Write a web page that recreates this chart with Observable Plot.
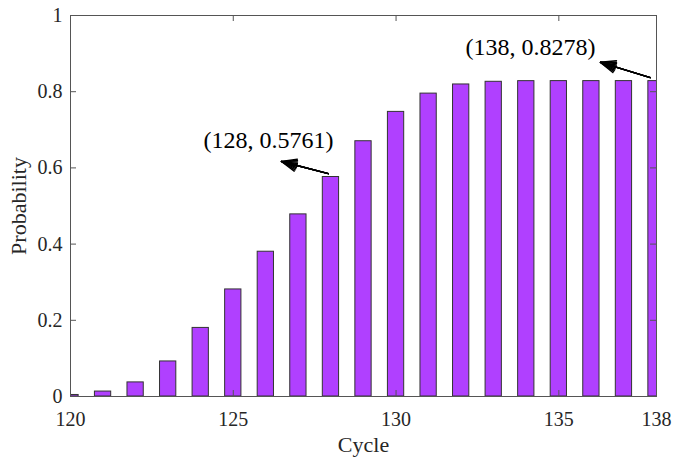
<!DOCTYPE html>
<html>
<head>
<meta charset="utf-8">
<script src="https://cdn.jsdelivr.net/npm/d3@7"></script>
<script src="https://cdn.jsdelivr.net/npm/@observablehq/plot@0.6"></script>
<style>
  html, body { margin: 0; padding: 0; background: #fff; }
  #chart { width: 673px; height: 459px; }
</style>
</head>
<body>
<div id="chart"></div>
<script>
// ---- data ----
const cycles = [120,121,122,123,124,125,126,127,128,129,130,131,132,133,134,135,136,137,138];
const probability = [0.004,0.013,0.037,0.092,0.180,0.281,0.380,0.478,0.5761,0.670,0.747,0.795,0.819,0.826,0.8277,0.8278,0.8278,0.8278,0.8278];
const xTicks = [120,125,130,135,138];
const yTicks = [0,0.2,0.4,0.6,0.8,1];
const yTickLabels = ["0","0.2","0.4","0.6","0.8","1"];
const annoText = ["(128, 0.5761)", "(138, 0.8278)"];
const annoTextX = [126.08, 134.13];
const annoTextY = [0.672, 0.916];
const arrowFromX = [127.92, 137.81];
const arrowFromY = [0.585, 0.837];
const arrowToX = [126.48, 136.28];
const arrowToY = [0.617, 0.877];

const bars = cycles.map((c, i) => ({cycle: c, p: probability[i]}));
const annos = annoText.map((t, i) => ({
  t, x: annoTextX[i], y: annoTextY[i],
  x1: arrowFromX[i], y1: arrowFromY[i], x2: arrowToX[i], y2: arrowToY[i]
}));

const font = "'Liberation Serif', 'Times New Roman', serif";
const ink = "#262626";
const frameH = 459 - 15 - 63;
const frameW = 673 - 70 - 17;

const headMarks = [45, 35, 25, 15, 6].map(a => Plot.arrow(annos, {
  x1: "x1", y1: "y1", x2: "x2", y2: "y2",
  stroke: "black", strokeWidth: 1.5, headLength: 16, headAngle: a
}));

const chart = Plot.plot({
  width: 673,
  height: 459,
  marginLeft: 70,
  marginRight: 17,
  marginTop: 15,
  marginBottom: 63,
  style: {fontFamily: font, background: "white", color: ink},
  x: {domain: [120, 138]},
  y: {domain: [0, 1]},
  marks: [
    Plot.rectY(bars, {
      x1: d => d.cycle - 0.25, x2: d => d.cycle + 0.25, y: "p",
      fill: "#b040ff", stroke: "#333", strokeWidth: 1, clip: true
    }),
    Plot.frame({stroke: "#555", strokeWidth: 1}),
    // inward ticks, bottom/top/left/right
    Plot.tickX(xTicks, {x: d => d, insetTop: frameH - 6, stroke: "#555"}),
    Plot.tickX(xTicks, {x: d => d, insetBottom: frameH - 6, stroke: "#555"}),
    Plot.tickY(yTicks, {y: d => d, insetRight: frameW - 6, stroke: "#555"}),
    Plot.tickY(yTicks, {y: d => d, insetLeft: frameW - 6, stroke: "#555"}),
    Plot.axisX({ticks: xTicks, tickSize: 0, tickPadding: 15, fontSize: 20, tickFormat: d => String(d), label: null}),
    Plot.axisY({ticks: yTicks, tickSize: 0, tickPadding: 8, fontSize: 20, tickFormat: (d, i) => yTickLabels[i], label: null}),
    Plot.text(["Cycle"], {frameAnchor: "bottom", dy: 48, lineAnchor: "middle", fontSize: 22, fill: ink}),
    Plot.text(["Probability"], {frameAnchor: "left", dx: -52, rotate: -90, textAnchor: "middle", lineAnchor: "middle", fontSize: 22, fill: ink}),
    ...headMarks,
    Plot.text(annos, {x: "x", y: "y", text: "t", fontSize: 24, fill: "black", lineAnchor: "middle"})
  ]
});
document.getElementById("chart").appendChild(chart);
</script>
</body>
</html>
